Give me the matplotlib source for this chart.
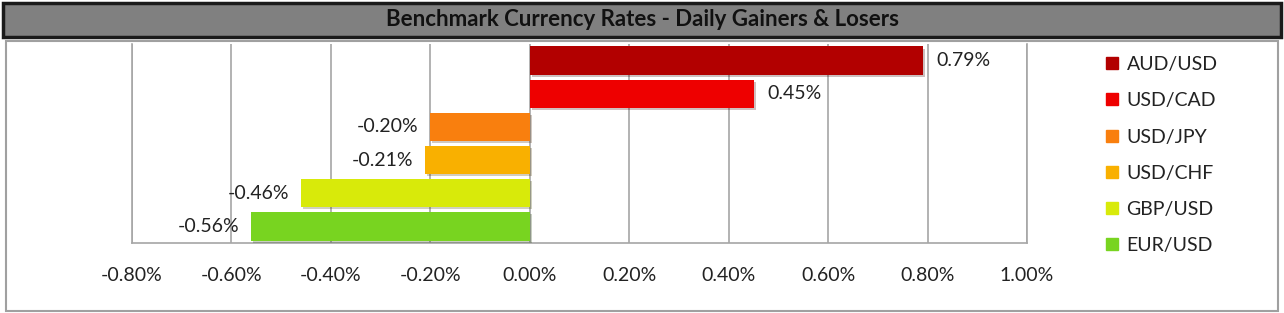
import numpy as np
import matplotlib
matplotlib.use("Agg")
import matplotlib.pyplot as plt
from matplotlib.patches import Rectangle
from matplotlib.lines import Line2D
import matplotlib.patheffects as pe

plt.rcParams['font.family'] = ['Lato', 'DejaVu Sans']

# data (top to bottom)
pairs   = ["AUD/USD", "USD/CAD", "USD/JPY", "USD/CHF", "GBP/USD", "EUR/USD"]
changes = [0.79, 0.45, -0.20, -0.21, -0.46, -0.56]
colors  = ["#B20000", "#EE0000", "#F97F0E", "#F9B000", "#D8EA0A", "#78D420"]
ticks   = [-0.8, -0.6, -0.4, -0.2, 0.0, 0.2, 0.4, 0.6, 0.8, 1.0]

W, H = 1284, 313
fig = plt.figure(figsize=(W / 100, H / 100), dpi=100)

def px(x0, y0, x1, y1):
    # pixel box -> figure fraction [l, b, w, h]
    return [x0 / W, 1 - y1 / H, (x1 - x0) / W, (y1 - y0) / H]

# title bar
l, b, w, h = px(3, 3, 1281, 37)
fig.patches.append(Rectangle((l, b), w, h, transform=fig.transFigure, zorder=-5,
                             facecolor="#808080", edgecolor="#1a1a1a", lw=2.5))
fig.text(0.5, b + h / 2, "Benchmark Currency Rates - Daily Gainers & Losers",
         ha="center", va="center", fontsize=16, fontweight="bold", color="#111111")

# chart frame
l, b, w, h = px(6, 41, 1278, 311)
fig.patches.append(Rectangle((l, b), w, h, transform=fig.transFigure, zorder=-5,
                             facecolor="white", edgecolor="#A0A0A0", lw=1.5))

ax = fig.add_axes(px(132, 44, 1027, 243))
ax.set_zorder(2)
ypos = np.arange(len(pairs))
bars = ax.barh(ypos, changes, height=0.85, color=colors, zorder=3)
for bar in bars:
    bar.set_path_effects([pe.SimplePatchShadow(offset=(1.5, -1.5), alpha=0.25), pe.Normal()])

for y, v in zip(ypos, changes):
    lab = f"{v:.2f}%"
    if v >= 0:
        ax.text(v + 0.028, y, lab, ha="left", va="center", fontsize=14, color="#222222", zorder=4)
    else:
        ax.text(v - 0.024, y, lab, ha="right", va="center", fontsize=14, color="#222222", zorder=4)

ax.set_ylim(len(pairs) - 0.5, -0.5)
ax.set_xlim(-0.8, 1.0)
ax.set_xticks(ticks)
ax.set_xticklabels([f"{t:.2f}%" for t in ticks], fontsize=14, color="#222222")
ax.set_yticks([])
ax.tick_params(axis="x", length=0, pad=17)
ax.grid(axis="x", color="#A6A6A6", lw=1.2, zorder=0)
ax.spines["top"].set_visible(False)
for s in ["left", "right", "bottom"]:
    ax.spines[s].set_color("#A6A6A6")
    ax.spines[s].set_linewidth(1.2)
ax.patch.set_alpha(0)

handles = [Line2D([], [], marker="s", ls="", color=c, markersize=8) for c in colors]
leg = fig.legend(handles, pairs, loc="upper left", bbox_to_anchor=(1102 / W, 1 - 56 / H),
                 frameon=False, fontsize=14, handletextpad=0.26, labelspacing=0.99,
                 handlelength=1.0, borderpad=0, borderaxespad=0, labelcolor="#222222")
leg.set_zorder(3)

fig.savefig("out.png", dpi=100)
